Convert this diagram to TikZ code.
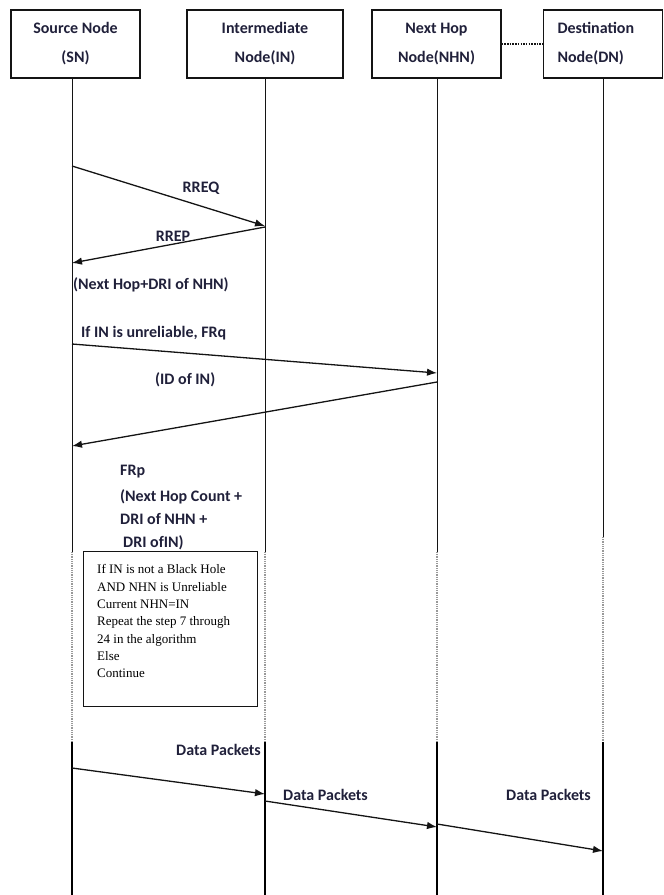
\documentclass[tikz,border=0pt]{standalone}
\usepackage{fontspec}
\setmainfont{Carlito}
\newfontfamily\notefont{Liberation Serif}
\usetikzlibrary{arrows.meta}
\definecolor{labelc}{RGB}{32,32,58}
\definecolor{linec}{RGB}{20,20,20}
\begin{document}
\begin{tikzpicture}[x=1pt,y=-1pt,
  actor/.style={draw=linec,line width=1.2pt,minimum height=68pt,inner sep=0pt,
    text=labelc,font=\fontsize{16}{29}\selectfont\bfseries,align=center},
  lbl/.style={inner sep=0pt,text=labelc,font=\fontsize{16}{24}\selectfont\bfseries},
  life/.style={draw=linec,line width=1pt},
  lifedot/.style={draw=gray!80,line width=1.4pt,dash pattern=on 1pt off 0.8pt},
  lifethick/.style={draw=black,line width=2.6pt},
  msg/.style={draw=linec,line width=1.3pt,-{Latex[length=10pt,width=7.5pt]}},
  notebox/.style={draw=linec,line width=1pt,fill=white,inner sep=0pt},
  notetext/.style={inner sep=0pt,align=left,text=black,
    font=\notefont\fontsize{13}{17.33}\selectfont}]
\useasboundingbox (0,0) rectangle (664,895);

% participant boxes
\node[actor,minimum width=129pt] (SN) at (75.5,44) {Source Node\\(SN)};
\node[actor,minimum width=156pt] (IN) at (265,44) {Intermediate\\Node(IN)};
\node[actor,minimum width=129pt] (NHN) at (436.5,44) {Next Hop\\Node(NHN)};
\node[actor,text width=91pt,inner xsep=14pt,align=left] (DN) at (603,44) {Destination\\Node(DN)};
\draw[draw=linec,line width=1.2pt,dash pattern=on 1.5pt off 1.2pt] (NHN.east) -- (DN.west);

% lifelines: thin, faded, thick
\foreach \n/\x/\ya in {sn/72/552, in/265/552, nh/437/552, dn/603/537} {
  \coordinate (\n0) at (\x,78);
  \coordinate (\n1) at (\x,\ya);
  \coordinate (\n2) at (\x,742);
  \coordinate (\n3) at (\x,895);
}
\foreach \n in {sn,in,nh,dn} {
  \draw[life] (\n0) -- (\n1);
  \draw[lifedot] (\n1) -- (\n2);
  \draw[lifethick] (\n2) -- (\n3);
}

% route request / reply
\coordinate (rq0) at (72,166);  \coordinate (rq1) at (265,226);
\coordinate (rp0) at (265,227); \coordinate (rp1) at (72,263);
\draw[msg] (rq0) -- (rq1);
\draw[msg] (rp0) -- (rp1);
\node[lbl,anchor=base] (lrreq) at (201,192) {RREQ};
\node[lbl,anchor=base] (lrrep) at (173,241) {RREP};
\node[lbl,anchor=base west] (lnh) at (73,289) {(Next Hop+DRI of NHN)};

% further request / reply
\coordinate (fq0) at (72,344);  \coordinate (fq1) at (437,373);
\coordinate (fp0) at (437,382); \coordinate (fp1) at (72,446);
\draw[msg] (fq0) -- (fq1);
\draw[msg] (fp0) -- (fp1);
\node[lbl,anchor=base west] (lfrq) at (81,337) {If IN is unreliable, FRq};
\node[lbl,anchor=base west] (lid) at (155,384) {(ID of IN)};
\node[lbl,anchor=base west] (lfrp1) at (120,475) {FRp};
\node[lbl,anchor=base west] (lfrp2) at (120,501) {(Next Hop Count +};
\node[lbl,anchor=base west] (lfrp3) at (120,524) {DRI of NHN +};
\node[lbl,anchor=base west] (lfrp4) at (123,547) {DRI ofIN)};

% decision note
\node[notebox,minimum width=174pt,minimum height=155pt] (note) at (170,628.5) {};
\node[notetext,anchor=north west] (notex) at (97,564.5)
  {If IN is not a Black Hole\\AND NHN is Unreliable\\Current NHN=IN\\Repeat the step 7 through\\24 in the algorithm\\Else\\Continue};

% data transfer
\coordinate (d10) at (72,768);  \coordinate (d11) at (265,794);
\coordinate (d20) at (265,801); \coordinate (d21) at (437,827);
\coordinate (d30) at (437,824); \coordinate (d31) at (603,851);
\draw[msg] (d10) -- (d11);
\draw[msg] (d20) -- (d21);
\draw[msg] (d30) -- (d31);
\node[lbl,anchor=base west] (ldp1) at (176,755) {Data Packets};
\node[lbl,anchor=base west] (ldp2) at (283,800) {Data Packets};
\node[lbl,anchor=base west] (ldp3) at (506,800) {Data Packets};
\end{tikzpicture}
\end{document}
